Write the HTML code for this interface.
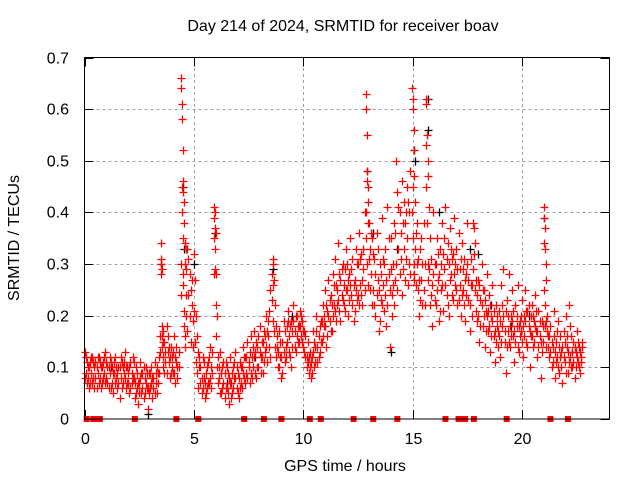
<!DOCTYPE html>
<html><head><meta charset="utf-8"><style>
body{margin:0;background:#fff}
svg{display:block;font-family:"Liberation Sans",sans-serif}
</style></head><body>
<svg id="chart" width="640" height="480">
<text x="343" y="31" font-size="16" text-anchor="middle">Day 214 of 2024, SRMTID for receiver boav</text>
<text x="345" y="471" font-size="16" text-anchor="middle">GPS time / hours</text>
<text transform="translate(19,238) rotate(-90)" font-size="16" text-anchor="middle">SRMTID / TECUs</text>
<g id="grid"></g><g id="ticks"></g><g id="marks"></g>
<rect x="84.5" y="57.5" width="525" height="361.5" fill="none" stroke="#000" stroke-width="1"/>
</svg>
<script>
const xTicks=[0,5,10,15,20];
const yTicks=[0,0.1,0.2,0.3,0.4,0.5,0.6,0.7];
const yTickLabels=["0","0.1","0.2","0.3","0.4","0.5","0.6","0.7"];
const redTimes=[
0.0,0.05,0.1,0.15,0.2,0.25,0.3,0.35,0.4,0.45,
0.5,0.55,0.6,0.65,0.7,0.75,0.8,0.85,0.9,0.95,
1.0,1.05,1.1,1.15,1.2,1.25,1.3,1.35,1.4,1.45,
1.5,1.55,1.6,1.65,1.7,1.75,1.8,1.85,1.9,1.95,
2.0,2.05,2.1,2.15,2.2,2.25,2.3,2.35,2.4,2.45,
2.5,2.55,2.6,2.65,2.7,2.75,2.8,2.85,2.9,2.95,
3.0,3.05,3.1,3.15,3.2,3.25,3.3,3.35,3.4,3.45,
3.48,3.5,3.52,3.55,3.58,3.6,3.65,3.7,3.75,3.8,
3.85,3.9,3.95,4.0,4.05,4.1,4.15,4.2,4.25,4.3,
4.4,4.42,4.44,4.46,4.48,4.5,4.52,4.54,4.56,4.58,
4.6,4.62,4.65,4.7,4.75,4.8,4.85,4.9,4.95,5.0,
5.05,5.1,5.15,5.2,5.25,5.3,5.35,5.4,5.45,5.5,
5.55,5.6,5.65,5.7,5.75,5.8,5.85,5.9,5.92,5.95,
5.97,6.0,6.02,6.05,6.1,6.15,6.2,6.25,6.3,6.35,
6.4,6.45,6.5,6.55,6.6,6.65,6.7,6.75,6.8,6.85,
6.9,6.95,7.0,7.05,7.1,7.15,7.2,7.25,7.3,7.35,
7.4,7.45,7.5,7.55,7.6,7.65,7.7,7.75,7.8,7.85,
7.9,7.95,8.0,8.05,8.1,8.15,8.2,8.25,8.3,8.35,
8.4,8.45,8.5,8.55,8.6,8.62,8.65,8.7,8.75,8.8,
8.85,8.9,8.95,9.0,9.05,9.1,9.15,9.2,9.25,9.3,
9.35,9.4,9.45,9.5,9.55,9.6,9.65,9.7,9.75,9.8,
9.85,9.9,9.95,10.0,10.05,10.1,10.15,10.2,10.25,10.3,
10.35,10.4,10.45,10.5,10.55,10.6,10.65,10.7,10.75,10.8,
10.85,10.9,10.95,11.0,11.05,11.1,11.15,11.2,11.25,11.3,
11.35,11.4,11.45,11.5,11.55,11.6,11.65,11.7,11.75,11.8,
11.85,11.9,11.95,12.0,12.05,12.1,12.15,12.2,12.25,12.3,
12.35,12.4,12.45,12.5,12.55,12.6,12.65,12.7,12.75,12.8,
12.85,12.88,12.9,12.92,12.95,12.98,13.0,13.05,13.1,13.15,
13.2,13.25,13.3,13.35,13.4,13.45,13.5,13.55,13.6,13.65,
13.7,13.75,13.8,13.85,13.9,13.95,14.0,14.05,14.1,14.15,
14.2,14.25,14.3,14.35,14.4,14.45,14.5,14.55,14.6,14.65,
14.7,14.75,14.8,14.85,14.9,14.95,15.0,15.02,15.04,15.06,
15.08,15.1,15.15,15.2,15.25,15.3,15.35,15.4,15.45,15.5,
15.55,15.6,15.62,15.65,15.68,15.7,15.75,15.8,15.85,15.9,
15.95,16.0,16.05,16.1,16.15,16.2,16.25,16.3,16.35,16.4,
16.45,16.5,16.55,16.6,16.65,16.7,16.75,16.8,16.85,16.9,
16.95,17.0,17.05,17.1,17.15,17.2,17.25,17.3,17.35,17.4,
17.45,17.5,17.55,17.6,17.65,17.7,17.75,17.8,17.85,17.9,
17.95,18.0,18.05,18.1,18.15,18.2,18.25,18.3,18.35,18.4,
18.45,18.5,18.55,18.6,18.65,18.7,18.75,18.8,18.85,18.9,
18.95,19.0,19.05,19.1,19.15,19.2,19.25,19.3,19.35,19.4,
19.45,19.5,19.55,19.6,19.65,19.7,19.75,19.8,19.85,19.9,
19.95,20.0,20.05,20.1,20.15,20.2,20.25,20.3,20.35,20.4,
20.45,20.5,20.55,20.6,20.65,20.7,20.75,20.8,20.85,20.9,
20.95,21.0,21.02,21.04,21.06,21.08,21.1,21.15,21.2,21.25,
21.3,21.35,21.4,21.45,21.5,21.55,21.6,21.65,21.7,21.75,
21.8,21.85,21.9,21.95,22.0,22.05,22.1,22.15,22.2,22.25,
22.3,22.35,22.4,22.45,22.5,22.55,22.6,22.65,22.7,22.75];
const redValues=[
0.13,0.09,0.11,0.08,0.10,0.07,0.09,0.12,0.08,0.10,
0.11,0.06,0.09,0.12,0.08,0.10,0.07,0.11,0.09,0.13,
0.08,0.10,0.06,0.09,0.11,0.07,0.05,0.09,0.12,0.08,
0.06,0.10,0.04,0.08,0.11,0.07,0.09,0.13,0.06,0.10,
0.09,0.05,0.11,0.07,0.12,0.08,0.04,0.10,0.06,0.03,
0.07,0.11,0.05,0.09,0.04,0.08,0.10,0.06,0.02,0.09,
0.06,0.10,0.04,0.08,0.11,0.07,0.05,0.09,0.12,0.16,
0.34,0.30,0.29,0.18,0.15,0.12,0.09,0.13,0.18,0.16,
0.11,0.08,0.14,0.12,0.09,0.16,0.07,0.11,0.08,0.10,
0.66,0.64,0.61,0.58,0.52,0.46,0.44,0.42,0.38,0.34,
0.30,0.24,0.20,0.33,0.31,0.28,0.25,0.22,0.19,0.32,
0.27,0.20,0.16,0.13,0.10,0.07,0.05,0.12,0.08,0.04,
0.09,0.06,0.11,0.07,0.14,0.10,0.13,0.41,0.39,0.37,
0.33,0.28,0.22,0.20,0.12,0.08,0.13,0.05,0.10,0.07,
0.04,0.11,0.06,0.09,0.03,0.12,0.07,0.05,0.10,0.08,
0.13,0.06,0.09,0.04,0.11,0.07,0.10,0.14,0.08,0.12,
0.09,0.15,0.11,0.07,0.16,0.12,0.10,0.17,0.13,0.08,
0.14,0.10,0.18,0.12,0.15,0.09,0.17,0.13,0.20,0.11,
0.16,0.21,0.25,0.28,0.30,0.31,0.27,0.22,0.18,0.14,
0.10,0.17,0.12,0.08,0.15,0.19,0.11,0.14,0.18,0.21,
0.16,0.12,0.19,0.14,0.22,0.17,0.13,0.20,0.15,0.18,
0.21,0.16,0.19,0.14,0.17,0.12,0.10,0.15,0.09,0.13,
0.08,0.12,0.17,0.10,0.14,0.20,0.11,0.16,0.13,0.19,
0.15,0.22,0.18,0.25,0.14,0.21,0.27,0.19,0.24,0.17,
0.28,0.22,0.31,0.19,0.25,0.34,0.21,0.27,0.24,0.30,
0.22,0.29,0.33,0.25,0.20,0.28,0.35,0.24,0.31,0.19,
0.27,0.33,0.23,0.30,0.36,0.26,0.32,0.22,0.29,0.40,
0.63,0.60,0.55,0.48,0.45,0.42,0.38,0.33,0.28,0.35,
0.25,0.31,0.20,0.36,0.27,0.17,0.30,0.23,0.39,0.26,
0.21,0.33,0.18,0.41,0.28,0.14,0.35,0.24,0.30,0.38,
0.27,0.50,0.44,0.33,0.40,0.36,0.46,0.29,0.42,0.38,
0.31,0.45,0.26,0.40,0.48,0.64,0.62,0.60,0.56,0.52,
0.47,0.42,0.36,0.30,0.25,0.20,0.33,0.27,0.22,0.38,
0.30,0.62,0.61,0.55,0.50,0.47,0.41,0.35,0.24,0.18,
0.40,0.30,0.22,0.35,0.27,0.19,0.33,0.25,0.38,0.21,
0.29,0.41,0.24,0.34,0.20,0.37,0.28,0.31,0.23,0.39,
0.26,0.33,0.22,0.36,0.29,0.20,0.34,0.25,0.31,0.19,
0.28,0.38,0.23,0.17,0.31,0.26,0.38,0.37,0.34,0.21,
0.19,0.27,0.15,0.23,0.30,0.18,0.25,0.14,0.21,0.28,
0.17,0.24,0.13,0.20,0.26,0.16,0.11,0.22,0.18,0.14,
0.21,0.12,0.26,0.18,0.29,0.15,0.09,0.23,0.17,0.28,
0.14,0.20,0.25,0.16,0.11,0.22,0.18,0.26,0.13,0.19,
0.17,0.23,0.12,0.20,0.25,0.15,0.21,0.18,0.10,0.16,
0.22,0.14,0.19,0.24,0.17,0.12,0.21,0.16,0.08,0.19,
0.15,0.41,0.39,0.37,0.33,0.30,0.27,0.20,0.16,0.12,
0.18,0.10,0.14,0.21,0.08,0.15,0.12,0.19,0.09,0.16,
0.13,0.07,0.17,0.11,0.20,0.14,0.09,0.22,0.12,0.16,
0.10,0.15,0.08,0.13,0.17,0.11,0.14,0.09,0.12,0.15];
const redValues2=[
0.08,0.12,0.07,0.10,0.06,0.11,0.12,0.07,0.11,0.06,
0.08,0.10,0.12,0.07,0.11,0.06,0.10,0.08,0.12,0.07,
0.11,0.07,0.10,0.12,0.06,0.10,0.09,0.11,0.07,0.10,
0.09,0.07,0.10,0.12,0.06,0.10,0.11,0.08,0.10,0.07,
0.07,0.10,0.06,0.09,0.08,0.11,0.07,0.05,0.09,0.07,
0.05,0.08,0.09,0.06,0.10,0.05,0.07,0.09,0.06,0.05,
0.09,0.07,0.08,0.06,0.05,0.09,0.10,0.07,0.09,0.13,
0.31,0.28,0.16,0.14,0.17,0.10,0.15,0.11,0.09,0.13,
0.14,0.12,0.09,0.10,0.13,0.09,0.12,0.14,0.10,0.13,
0.24,0.30,0.45,0.40,0.28,0.35,0.26,0.21,0.18,0.14,
0.16,0.33,0.29,0.17,0.24,0.20,0.15,0.27,0.14,0.21,
0.15,0.11,0.09,0.06,0.12,0.10,0.08,0.06,0.11,0.07,
0.05,0.10,0.07,0.12,0.08,0.06,0.09,0.35,0.28,0.29,
0.40,0.36,0.16,0.10,0.07,0.10,0.05,0.09,0.06,0.11,
0.09,0.06,0.10,0.05,0.08,0.07,0.04,0.09,0.06,0.11,
0.08,0.10,0.05,0.08,0.06,0.10,0.06,0.09,0.12,0.07,
0.12,0.08,0.10,0.13,0.09,0.08,0.14,0.12,0.09,0.15,
0.10,0.16,0.13,0.09,0.12,0.15,0.11,0.16,0.14,0.17,
0.19,0.14,0.12,0.23,0.19,0.26,0.17,0.14,0.12,0.16,
0.13,0.10,0.15,0.12,0.09,0.13,0.17,0.12,0.15,0.19,
0.13,0.18,0.10,0.17,0.19,0.14,0.20,0.16,0.18,0.15,
0.18,0.20,0.15,0.17,0.13,0.16,0.12,0.11,0.12,0.10,
0.11,0.09,0.13,0.15,0.11,0.17,0.14,0.12,0.18,0.15,
0.19,0.16,0.20,0.18,0.22,0.16,0.20,0.23,0.17,0.22,
0.20,0.26,0.21,0.26,0.22,0.23,0.28,0.19,0.29,0.23,
0.26,0.21,0.25,0.30,0.27,0.23,0.26,0.29,0.22,0.26,
0.21,0.25,0.30,0.24,0.22,0.31,0.24,0.27,0.33,0.25,
0.35,0.40,0.46,0.30,0.38,0.26,0.31,0.25,0.36,0.22,
0.32,0.22,0.28,0.24,0.33,0.25,0.19,0.28,0.22,0.31,
0.30,0.24,0.27,0.22,0.35,0.25,0.29,0.20,0.26,0.22,
0.36,0.30,0.25,0.41,0.28,0.31,0.24,0.38,0.33,0.27,
0.40,0.35,0.42,0.30,0.28,0.40,0.35,0.45,0.30,0.27,
0.28,0.33,0.26,0.38,0.31,0.27,0.23,0.35,0.30,0.25,
0.22,0.45,0.53,0.38,0.30,0.27,0.29,0.22,0.31,0.26,
0.28,0.23,0.30,0.25,0.32,0.28,0.21,0.30,0.26,0.32,
0.35,0.26,0.31,0.22,0.30,0.27,0.33,0.24,0.32,0.28,
0.30,0.25,0.29,0.23,0.26,0.31,0.24,0.29,0.22,0.27,
0.24,0.30,0.27,0.22,0.26,0.20,0.29,0.32,0.25,0.27,
0.24,0.20,0.26,0.18,0.22,0.25,0.20,0.23,0.17,0.20,
0.21,0.18,0.22,0.16,0.19,0.21,0.17,0.15,0.20,0.17,
0.16,0.19,0.15,0.22,0.20,0.17,0.21,0.14,0.20,0.15,
0.18,0.16,0.19,0.21,0.17,0.15,0.20,0.14,0.18,0.16,
0.20,0.15,0.18,0.16,0.19,0.21,0.14,0.22,0.17,0.20,
0.16,0.20,0.15,0.18,0.21,0.17,0.14,0.19,0.15,0.13,
0.18,0.34,0.25,0.18,0.22,0.14,0.19,0.17,0.14,0.16,
0.13,0.15,0.11,0.16,0.13,0.11,0.17,0.10,0.14,0.12,
0.10,0.14,0.12,0.15,0.09,0.16,0.13,0.11,0.18,0.10,
0.13,0.11,0.14,0.10,0.12,0.15,0.10,0.13,0.11,0.14];
const blackTimes=[3.5,4.5,4.55,5.0,5.95,8.6,9.5,10.0,12.9,13.2,14.0,14.3,15.05,15.1,15.7,15.72,16.2,17.6,18.0,18.6,19.5,20.3,21.0,22.3,2.9,1.2,6.5,7.8];
const blackValues=[0.30,0.45,0.33,0.30,0.36,0.29,0.20,0.17,0.48,0.36,0.13,0.33,0.52,0.50,0.62,0.56,0.40,0.33,0.32,0.22,0.18,0.20,0.39,0.13,0.01,0.10,0.07,0.12];
const zeroTimes=[0.1,0.4,0.55,0.7,2.3,4.2,5.2,7.3,8.2,9.0,10.3,10.8,12.3,13.2,14.3,16.5,17.1,17.25,17.4,17.8,19.3,21.3,22.1];

const X0=84.5,X1=609.5,Y0=419,Y1=57.5,XMAX=24,YMAX=0.7;
function xs(t){return X0+(X1-X0)*t/XMAX;}
function ys(v){return Y0-(Y0-Y1)*v/YMAX;}
const NS="http://www.w3.org/2000/svg";
function mk(tag,attrs,parent){const e=document.createElementNS(NS,tag);for(const k in attrs)e.setAttribute(k,attrs[k]);parent.appendChild(e);return e;}
const grid=document.getElementById('grid'),ticks=document.getElementById('ticks'),marks=document.getElementById('marks');
yTicks.forEach((v,i)=>{
  const y=Math.round(ys(v))+0.5;
  if(i>0&&i<yTicks.length-1){
    const g=mk('line',{x1:X0,x2:X1,y1:y,y2:y,stroke:'#a0a0a0','stroke-dasharray':'3,3'},grid);
    
    
  }
  const t1=mk('line',{x1:X0,x2:X0+9,y1:y,y2:y,stroke:'#000'},ticks);
  
  
  const t2=mk('line',{x1:X1-9,x2:X1,y1:y,y2:y,stroke:'#000'},ticks);
  
  
  const l=mk('text',{x:69,y:y+5,'font-size':16,'text-anchor':'end'},ticks);
  l.textContent=yTickLabels[i];
  
  
});
xTicks.forEach((t,i)=>{
  const x=Math.round(xs(t))+0.5;
  if(i>0){
    const g=mk('line',{x1:x,x2:x,y1:Y0,y2:Y1,stroke:'#a0a0a0','stroke-dasharray':'3,3'},grid);
    
    
  }
  const t1=mk('line',{x1:x,x2:x,y1:Y0,y2:Y0-9,stroke:'#000'},ticks);
  
  
  const t2=mk('line',{x1:x,x2:x,y1:Y1,y2:Y1+9,stroke:'#000'},ticks);
  
  
  const l=mk('text',{x:x,y:444,'font-size':16,'text-anchor':'middle'},ticks);
  l.textContent=String(t);
  
  
});
function plus(t,v,color,name){
  const x=Math.round(xs(t))+0.5,y=Math.round(ys(v))+0.5;
  const p=mk('path',{d:`M${x-4} ${y}H${x+4}M${x} ${y-4}V${y+4}`,stroke:color,'stroke-width':1.3,fill:'none'},marks);
  
  
}
blackTimes.forEach((t,i)=>plus(t,blackValues[i],'#000','black-point'));
redTimes.forEach((t,i)=>plus(t,redValues[i],'#ff0000','red-point'));
redTimes.forEach((t,i)=>plus(t,redValues2[i],'#ff0000','red-point'));
zeroTimes.forEach(t=>{
  const r=mk('rect',{x:xs(t)-3,y:Y0-3,width:6,height:6,fill:'#ff0000'},marks);
  
  
});
</script>
</body></html>
